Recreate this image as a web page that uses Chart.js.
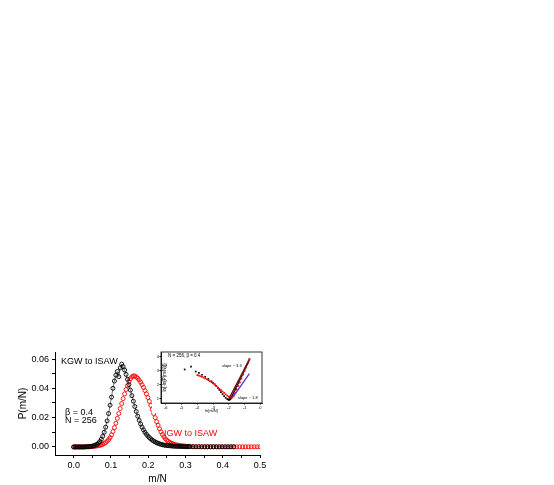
<!DOCTYPE html>
<html>
<head>
<meta charset="utf-8">
<script src="https://cdn.jsdelivr.net/npm/chart.js@4.4.1/dist/chart.umd.min.js"></script>
<style>
  html, body { margin: 0; padding: 0; background: #fff; }
  #wrap { position: relative; width: 554px; height: 485px; }
  #main { position: absolute; left: 0; top: 0; }
  #inset { position: absolute; left: 152px; top: 346px; }
</style>
</head>
<body>
<div id="wrap">
  <canvas id="main" width="554" height="485"></canvas>
  <canvas id="inset" width="114" height="67"></canvas>
</div>
<script>
// ---------- main chart data ----------
const mOverN = [0.0000,0.0039,0.0078,0.0117,0.0156,0.0195,0.0234,0.0273,0.0313,0.0352,
  0.0391,0.0430,0.0469,0.0508,0.0547,0.0586,0.0625,0.0664,0.0703,0.0742,
  0.0781,0.0820,0.0859,0.0898,0.0938,0.0977,0.1016,0.1055,0.1094,0.1133,
  0.1172,0.1211,0.1250,0.1289,0.1328,0.1367,0.1406,0.1445,0.1484,0.1523,
  0.1563,0.1602,0.1641,0.1680,0.1719,0.1758,0.1797,0.1836,0.1875,0.1914,
  0.1953,0.1992,0.2031,0.2070,0.2109,0.2148,0.2188,0.2227,0.2266,0.2305,
  0.2344,0.2383,0.2422,0.2461,0.2500,0.2539,0.2578,0.2617,0.2656,0.2695,
  0.2734,0.2773,0.2813,0.2852,0.2891,0.2930,0.2969,0.3008,0.3047,0.3086,
  0.3125,0.3203,0.3281,0.3359,0.3438,0.3516,0.3594,0.3672,0.3750,0.3828,
  0.3906,0.3984,0.4063,0.4141,0.4219,0.4297,0.4375,0.4453,0.4531,0.4609,
  0.4688,0.4766,0.4844,0.4922,0.5000];
const kgwP = [0,0,0,0,0,0,0,0,0.0001,0.0001,
  0.0002,0.0003,0.0004,0.0006,0.0009,0.0013,0.0018,0.0026,0.0037,0.0052,
  0.0073,0.0100,0.0135,0.0178,0.0228,0.0285,0.0340,0.0400,0.0450,0.0490,
  0.0515,0.0480,0.0540,0.0565,0.0548,0.0525,0.0495,0.0462,0.0425,0.0388,
  0.0350,0.0312,0.0276,0.0242,0.0210,0.0182,0.0157,0.0135,0.0116,0.0100,
  0.0086,0.0074,0.0064,0.0055,0.0047,0.0040,0.0034,0.0029,0.0025,0.0021,
  0.0018,0.0015,0.0013,0.0011,0.0010,0.0009,0.0008,0.0007,0.0006,0.0005,
  0.0005,0.0004,0.0004,0.0003,0.0003,0.0003,0.0002,0.0002,0.0002,0.0002,
  0.0002,0.0001,0.0001,0.0001,0.0001,0.0001,0.0001,0.0001,0.0001,0.0001,
  0.0001,0.0001,0.0001,0.0001,0.0001,0.0001];
const igwP = [0,0,0,0,0,0,0,0,0,0.0001,
  0.0001,0.0002,0.0002,0.0003,0.0004,0.0005,0.0007,0.0009,0.0011,0.0014,
  0.0018,0.0023,0.0030,0.0039,0.0050,0.0064,0.0082,0.0105,0.0132,0.0162,
  0.0195,0.0228,0.0262,0.0296,0.0330,0.0362,0.0392,0.0418,0.0446,0.0465,
  0.0478,0.0485,0.0484,0.0478,0.0469,0.0457,0.0442,0.0425,0.0406,0.0385,
  0.0362,0.0337,0.0311,0.0284,0.0256,0.0228,0.0200,0.0173,0.0148,0.0124,
  0.0103,0.0085,0.0069,0.0056,0.0046,0.0038,0.0031,0.0026,0.0022,0.0018,
  0.0015,0.0013,0.0011,0.0009,0.0008,0.0007,0.0006,0.0005,0.0004,0.0004,
  0.0003,0.0002,0.0002,0.0002,0.0001,0.0001,0.0001,0.0001,0.0001,0.0001,
  0.0001,0.0001,0.0001,0.0001,0.0001,0.0001,0.0001,0.0001,0.0001,0.0001,
  0.0001,0.0001,0.0001,0.0001,0.0001];
const xTicks = [0,0.05,0.1,0.15,0.2,0.25,0.3,0.35,0.4,0.45,0.5];
const yTicks = [0,0.01,0.02,0.03,0.04,0.05,0.06];

// ---------- inset data ----------
const insetKgwX = [-4.8,-4.4,-4.1,-3.9,-3.7,-3.5,-3.3,-3.1,-3.0,-2.9,-2.8,-2.7,-2.6,-2.5,-2.4,-2.3,-2.2,-2.1,-2.05,-2.0,-1.95,-1.9,-1.85,-1.8,-1.75,-1.7,-1.65,-1.6,-1.55,-1.5,-1.45,-1.4,-1.35,-1.3,-1.25,-1.2,-1.15,-1.1,-1.05,-1.0,-0.95,-0.9,-0.85,-0.8,-0.75,-0.7];
const insetKgwY = [3.1,3.3,2.95,2.85,2.72,2.58,2.42,2.25,2.15,2.04,1.92,1.78,1.63,1.48,1.33,1.19,1.07,0.98,0.95,0.93,0.94,0.98,1.06,1.17,1.29,1.41,1.53,1.65,1.77,1.89,2.01,2.13,2.25,2.37,2.49,2.61,2.73,2.85,2.97,3.09,3.21,3.33,3.45,3.57,3.69,3.8];
const insetIgwX = [-4.0,-3.9,-3.8,-3.7,-3.6,-3.5,-3.4,-3.3,-3.2,-3.1,-3.0,-2.9,-2.8,-2.7,-2.6,-2.5,-2.4,-2.3,-2.2,-2.1,-2.0,-1.9,-1.8,-1.7,-1.6,-1.5,-1.4,-1.3,-1.2,-1.1,-1.0,-0.9,-0.8,-0.7];
const insetIgwY = [2.70,2.66,2.62,2.57,2.52,2.46,2.40,2.33,2.26,2.18,2.10,2.01,1.92,1.82,1.72,1.62,1.52,1.42,1.32,1.23,1.15,1.10,1.09,1.20,1.42,1.66,1.92,2.18,2.45,2.72,3.00,3.28,3.56,3.85];
const fitSteepX = [-2.0,-0.75];
const fitSteepY = [1.0,3.7];
const fitShallowX = [-1.75,-0.7];
const fitShallowY = [1.1,2.8];
const insetXTicks = [-6,-5,-4,-3,-2,-1,0];
const insetYTicks = [1,2,3,4];

const FONT = "'Liberation Sans', Arial, sans-serif";
const pts = (xs, ys) => ys.map((y, i) => ({ x: xs[i], y }));

const mainText = {
  id: 'mainText',
  afterDatasetsDraw(chart) {
    const c = chart.ctx;
    c.save();
    c.textBaseline = 'middle';
    c.textAlign = 'left';
    c.font = '9px ' + FONT;
    c.fillStyle = '#000';
    c.fillText('KGW to ISAW', 61, 362);
    c.fillText('\u03B2 = 0.4', 65, 413);
    c.fillText('N = 256', 65, 421);
    c.fillStyle = '#ff0000';
    c.fillText('IGW to ISAW', 164, 434);
    c.restore();
  }
};

new Chart(document.getElementById('main'), {
  type: 'scatter',
  data: {
    datasets: [
      {
        label: 'IGW to ISAW',
        data: pts(mOverN, igwP),
        showLine: false,
        pointStyle: 'circle',
        pointRadius: 2.0,
        pointBorderWidth: 0.9,
        pointBorderColor: '#ff0000',
        pointBackgroundColor: 'rgba(0,0,0,0)',
        order: 2
      },
      {
        label: 'KGW to ISAW',
        data: pts(mOverN, kgwP),
        showLine: true,
        borderColor: '#555',
        borderWidth: 0.8,
        pointStyle: 'circle',
        pointRadius: 2.0,
        pointBorderWidth: 0.9,
        pointBorderColor: '#000',
        pointBackgroundColor: 'rgba(0,0,0,0)',
        order: 1
      }
    ]
  },
  options: {
    responsive: false,
    animation: false,
    events: [],
    layout: { padding: { left: 0, right: 294, top: 352, bottom: 0 } },
    plugins: { legend: { display: false }, tooltip: { enabled: false } },
    scales: {
      x: {
        type: 'linear', min: -0.05, max: 0.5,
        afterBuildTicks: s => { s.ticks = xTicks.map(v => ({ value: v })); },
        afterFit: s => { s.height = 30; },
        grid: { drawOnChartArea: false, tickLength: 3, color: '#000', tickColor: '#000' },
        border: { color: '#000', width: 1 },
        ticks: {
          color: '#000', font: { family: FONT, size: 9 }, padding: 2, maxRotation: 0, autoSkip: false,
          callback: v => (Math.round(v * 100) % 10 === 0 ? v.toFixed(1) : '')
        },
        title: { display: true, text: 'm/N', color: '#000', font: { family: FONT, size: 10 }, padding: { top: 7, bottom: 0 } }
      },
      y: {
        type: 'linear', min: -0.0055, max: 0.0648,
        afterBuildTicks: s => { s.ticks = yTicks.map(v => ({ value: v })); },
        afterFit: s => { s.width = 55; },
        grid: { drawOnChartArea: false, tickLength: 3, color: '#000', tickColor: '#000' },
        border: { color: '#000', width: 1 },
        ticks: {
          color: '#000', font: { family: FONT, size: 9 }, padding: 3, autoSkip: false,
          callback: v => (Math.round(v * 100) % 2 === 0 ? v.toFixed(2) : '')
        },
        title: { display: true, text: 'P(m/N)', color: '#000', font: { family: FONT, size: 10 }, padding: { top: 17, bottom: 0 } }
      }
    }
  },
  plugins: [mainText]
});

// ---------- inset ----------
const insetDecor = {
  id: 'insetDecor',
  beforeDraw(chart) {
    const c = chart.ctx;
    c.save();
    c.fillStyle = '#fff';
    c.fillRect(0, 0, chart.width, chart.height);
    c.restore();
  },
  afterDraw(chart) {
    const c = chart.ctx, a = chart.chartArea;
    c.save();
    c.strokeStyle = '#000';
    c.lineWidth = 0.8;
    c.strokeRect(a.left, a.top, a.right - a.left, a.bottom - a.top);
    c.fillStyle = '#000';
    c.textBaseline = 'middle';
    c.font = '4.5px ' + FONT;
    c.textAlign = 'left';
    c.fillText('N = 256, \u03B2 = 0.4', a.left + 7, a.top + 4);
    c.font = '4px ' + FONT;
    c.fillText('slope ~ 3.3', a.left + 61, a.top + 14);
    c.fillText('slope ~ 1.8', a.left + 77, a.top + 46);
    c.translate(a.left + 4, (a.top + a.bottom) / 2);
    c.rotate(-Math.PI / 2);
    c.textAlign = 'center';
    c.font = '4.5px ' + FONT;
    c.fillText('ln[-ln[P(m/N)]]', 0, 0);
    c.restore();
  }
};

new Chart(document.getElementById('inset'), {
  type: 'scatter',
  data: {
    datasets: [
      {
        data: pts(insetKgwX, insetKgwY), showLine: false,
        pointStyle: 'rect', pointRadius: 1.2, pointBorderWidth: 0,
        pointBackgroundColor: '#000', pointBorderColor: '#000', order: 3
      },
      {
        data: pts(insetIgwX, insetIgwY), showLine: false,
        pointStyle: 'rect', pointRadius: 1.2, pointBorderWidth: 0,
        pointBackgroundColor: '#ff0000', pointBorderColor: '#ff0000', order: 2
      },
      {
        data: pts(fitSteepX, fitSteepY), showLine: true, pointRadius: 0,
        borderColor: '#6b1414', borderWidth: 1.4, order: 1
      },
      {
        data: pts(fitShallowX, fitShallowY), showLine: true, pointRadius: 0,
        borderColor: '#5b3bd6', borderWidth: 1.4, order: 1
      }
    ]
  },
  options: {
    responsive: false,
    animation: false,
    events: [],
    layout: { padding: { left: 0, right: 2, top: 6, bottom: 0 } },
    plugins: { legend: { display: false }, tooltip: { enabled: false } },
    scales: {
      x: {
        type: 'linear', min: -6.3, max: 0.1,
        afterBuildTicks: s => { s.ticks = insetXTicks.map(v => ({ value: v })); },
        afterFit: s => { s.height = 10; },
        grid: { drawOnChartArea: false, tickLength: 1.5, color: '#000', tickColor: '#000' },
        border: { color: '#000', width: 0.8 },
        ticks: { color: '#000', font: { family: FONT, size: 4 }, padding: 0.5, maxRotation: 0, autoSkip: false },
        title: { display: true, text: 'ln[m/N]', color: '#000', font: { family: FONT, size: 4 }, padding: { top: 0, bottom: 0 } }
      },
      y: {
        type: 'linear', min: 0.7, max: 4.35,
        afterBuildTicks: s => { s.ticks = insetYTicks.map(v => ({ value: v })); },
        afterFit: s => { s.width = 9; },
        grid: { drawOnChartArea: false, tickLength: 1.5, color: '#000', tickColor: '#000' },
        border: { color: '#000', width: 0.8 },
        ticks: { color: '#000', font: { family: FONT, size: 4 }, padding: 0.5, autoSkip: false }
      }
    }
  },
  plugins: [insetDecor]
});
</script>
</body>
</html>
